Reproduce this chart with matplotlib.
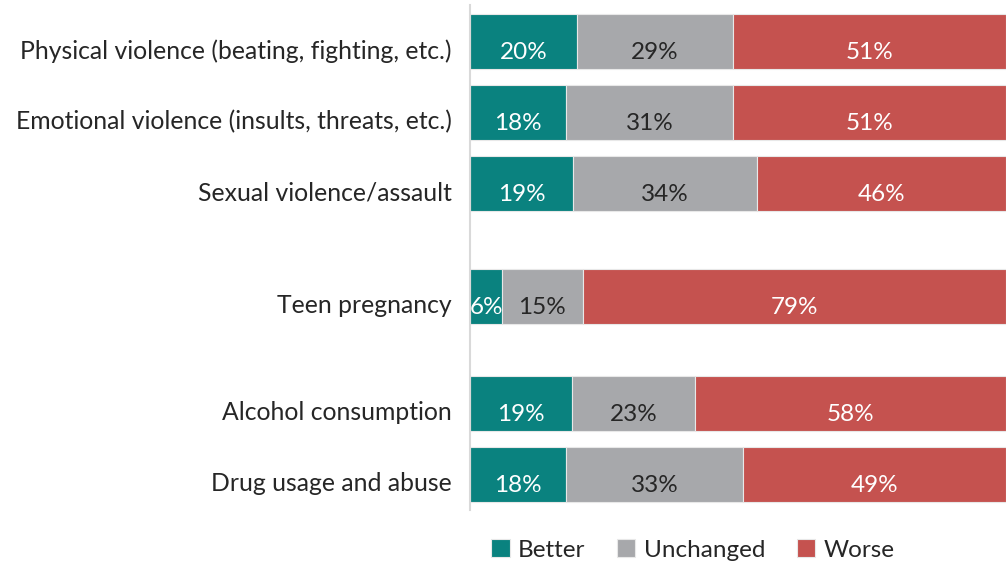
import numpy as np
import matplotlib.pyplot as plt
import matplotlib.transforms as mtransforms

plt.rcParams['font.family'] = ['Lato', 'DejaVu Sans']

categories = ['Physical violence (beating, fighting, etc.)',
              'Emotional violence (insults, threats, etc.)',
              'Sexual violence/assault',
              'Teen pregnancy',
              'Alcohol consumption',
              'Drug usage and abuse']
better = [20, 18, 19, 6, 19, 18]
unchanged = [29, 31, 34, 15, 23, 33]
worse = [51, 51, 46, 79, 58, 49]
series_names = ['Better', 'Unchanged', 'Worse']

colors = ['#0A827F', '#A7A8AB', '#C5524F']
text_colors = ['white', '#262626', 'white']
# rows sit in three groups with wider gaps between them
ypos = np.array([0, 1, 2, 3.59, 5.1, 6.1])

data = np.array([better, unchanged, worse], dtype=float)
# 100% stacked: each row scaled to its own total
shares = data / data.sum(axis=0) * 100

fig = plt.figure(figsize=(10.06, 5.63), dpi=100)
ax = fig.add_axes([470 / 1006, 1 - 510 / 563, 536 / 1006, 505 / 563])

left = np.zeros(len(categories))
for vals, shr, col, tcol, name in zip(data, shares, colors, text_colors, series_names):
    ax.barh(ypos, shr, left=left, height=0.77, color=col, edgecolor='#E8E8E8',
            linewidth=0.8, label=name)
    for y, l, s, v in zip(ypos, left, shr, vals):
        ax.text(l + s / 2, y + 0.16, '{}%'.format(int(v)), ha='center', va='center',
                color=tcol, fontsize=17.5)
    left += shr

ax.set_xlim(0, 100)
ax.set_ylim(6.6, -0.514)
ax.set_yticks([])
ax.set_xticks([])

trans = mtransforms.blended_transform_factory(ax.transAxes, ax.transData)
for y, cat in zip(ypos, categories):
    ax.text(-18 / 536, y + 0.13, cat, transform=trans, ha='right', va='center',
            fontsize=17.8, color='#262626')

for s in ['top', 'right', 'bottom']:
    ax.spines[s].set_visible(False)
ax.spines['left'].set_color('#D9D9D9')
ax.spines['left'].set_linewidth(1.5)

leg = fig.legend(loc='center', bbox_to_anchor=(693 / 1006, 1 - 550 / 563), ncol=3,
                 frameon=False, fontsize=17.5, handlelength=0.75, handleheight=0.75,
                 handletextpad=0.35, columnspacing=1.3)
for t in leg.get_texts():
    t.set_color('#262626')

fig.savefig('out.png', dpi=100)
